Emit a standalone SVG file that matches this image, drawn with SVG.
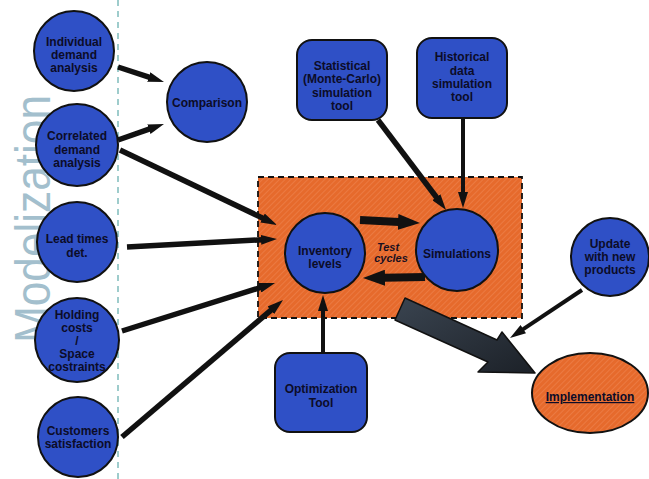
<svg xmlns="http://www.w3.org/2000/svg" width="649" height="479" viewBox="0 0 649 479">
<defs>
  <pattern id="hatch" width="4" height="4" patternUnits="userSpaceOnUse" patternTransform="rotate(45)">
    <rect width="4" height="4" fill="#e66a2c"/>
    <line x1="0" y1="0" x2="0" y2="4" stroke="#f08a58" stroke-width="1"/>
  </pattern>
  <linearGradient id="bigArrow" x1="0" y1="0" x2="1" y2="1">
    <stop offset="0" stop-color="#3a4450"/>
    <stop offset="1" stop-color="#1c2128"/>
  </linearGradient>
  <marker id="ah" viewBox="0 0 16 10" markerWidth="16" markerHeight="10" refX="1" refY="5" orient="auto" markerUnits="userSpaceOnUse">
    <path d="M0,0 L16,5 L0,10 Z" fill="#111"/>
  </marker>
  <marker id="ahBig" viewBox="0 0 22 16" markerWidth="22" markerHeight="16" refX="1" refY="8" orient="auto" markerUnits="userSpaceOnUse">
    <path d="M0,0 L22,8 L0,16 Z" fill="#111"/>
  </marker>
</defs>
<style>
  .node { fill: #2f50c6; stroke: #111; stroke-width: 2; }
  .lbl { font-family: "Liberation Sans", Arial, sans-serif; font-weight: bold; font-size: 12px; fill: #0c0c28; text-anchor: middle; }
  .conn { stroke: #111; fill: none; stroke-width: 5.5; stroke-linecap: butt; marker-end: url(#ah); }
  .thin { stroke-width: 4; }
  .thick { stroke-width: 8; marker-end: url(#ahBig); }
</style>
<rect width="649" height="479" fill="#ffffff"/>

<!-- Modelization side label and divider -->
<text x="50" y="343" transform="rotate(-90 50 343)" font-family="Liberation Sans, Arial, sans-serif" font-size="50" fill="#a3bfcd" textLength="248" lengthAdjust="spacingAndGlyphs">Modelization</text>
<line x1="118" y1="0" x2="118" y2="479" stroke="#7fbcbc" stroke-width="1.5" stroke-dasharray="6,5"/>

<!-- Orange container -->
<g id="box">
  <rect x="258" y="177" width="264" height="141" fill="url(#hatch)" stroke="#111" stroke-width="1.8" stroke-dasharray="6,4"/>
</g>

<!-- Connectors -->
<g id="connectors">
  <line class="conn" x1="118" y1="67" x2="149.7" y2="77.4"/>
  <line class="conn" x1="118" y1="140" x2="149.8" y2="128.9"/>
  <line class="conn" x1="120" y1="150" x2="263.5" y2="218.5"/>
  <line class="conn" x1="127" y1="247" x2="262" y2="239.8"/>
  <line class="conn" x1="122" y1="331" x2="260.7" y2="287.5"/>
  <line class="conn" x1="122" y1="437" x2="271.6" y2="309.7"/>
  <line class="conn" x1="378" y1="120" x2="437" y2="198"/>
  <line class="conn thin" x1="463" y1="118" x2="463" y2="193"/>
  <line class="conn thin" x1="323" y1="353" x2="323" y2="310"/>
  <line class="conn thick" x1="360" y1="220" x2="399" y2="222"/>
  <line class="conn thick" x1="425" y1="277" x2="384" y2="277.7"/>
  <line class="conn thin" x1="582" y1="290" x2="522.5" y2="329.7"/>
  <polygon id="bigarrow" points="405,298 497,340 502,332 535,373 478,372 488,362 395,320" fill="url(#bigArrow)" stroke="#111" stroke-width="1.5" stroke-linejoin="round"/>
</g>

<g id="individual">
  <circle class="node" cx="74" cy="51" r="40"/>
  <text class="lbl"><tspan x="74" y="46">Individual</tspan><tspan x="74" y="59">demand</tspan><tspan x="74" y="72">analysis</tspan></text>
</g>
<g id="comparison">
  <circle class="node" cx="207" cy="102" r="40"/>
  <text class="lbl" x="207" y="107">Comparison</text>
</g>
<g id="correlated">
  <circle class="node" cx="77" cy="145" r="41"/>
  <text class="lbl"><tspan x="77" y="140">Correlated</tspan><tspan x="77" y="153.5">demand</tspan><tspan x="77" y="167">analysis</tspan></text>
</g>
<g id="leadtimes">
  <circle class="node" cx="77" cy="242" r="40"/>
  <text class="lbl"><tspan x="77" y="243">Lead times</tspan><tspan x="77" y="257">det.</tspan></text>
</g>
<g id="holding">
  <circle class="node" cx="77" cy="340" r="42"/>
  <text class="lbl"><tspan x="77" y="319">Holding</tspan><tspan x="77" y="332">costs</tspan><tspan x="77" y="345">/</tspan><tspan x="77" y="358">Space</tspan><tspan x="77" y="371">costraints</tspan></text>
</g>
<g id="customers">
  <circle class="node" cx="78" cy="437" r="40"/>
  <text class="lbl"><tspan x="78" y="435">Customers</tspan><tspan x="78" y="448">satisfaction</tspan></text>
</g>
<g id="statistical">
  <rect class="node" x="297" y="40" width="90" height="80" rx="15"/>
  <text class="lbl"><tspan x="342" y="70">Statistical</tspan><tspan x="342" y="83">(Monte-Carlo)</tspan><tspan x="342" y="97">simulation</tspan><tspan x="342" y="110">tool</tspan></text>
</g>
<g id="historical">
  <rect class="node" x="417" y="38" width="90" height="80" rx="15"/>
  <text class="lbl"><tspan x="462" y="61">Historical</tspan><tspan x="462" y="75">data</tspan><tspan x="462" y="88">simulation</tspan><tspan x="462" y="101">tool</tspan></text>
</g>
<g id="inventory">
  <circle class="node" cx="325" cy="253" r="40"/>
  <text class="lbl"><tspan x="325" y="255">Inventory</tspan><tspan x="325" y="268">levels</tspan></text>
</g>
<g id="simulations">
  <circle class="node" cx="457" cy="250" r="41"/>
  <text class="lbl" x="457" y="258">Simulations</text>
</g>
<g id="testcycles">
  <text font-family="Liberation Sans, Arial, sans-serif" font-style="italic" font-weight="bold" font-size="11" fill="#1a1020" text-anchor="middle"><tspan x="388" y="251">Test</tspan><tspan x="391" y="262">cycles</tspan></text>
</g>
<g id="optimization">
  <rect class="node" x="275" y="353" width="92" height="79" rx="15"/>
  <text class="lbl"><tspan x="321" y="393">Optimization</tspan><tspan x="321" y="407">Tool</tspan></text>
</g>
<g id="update">
  <circle class="node" cx="610" cy="257" r="39"/>
  <text class="lbl"><tspan x="610" y="248">Update</tspan><tspan x="610" y="261">with new</tspan><tspan x="610" y="274">products</tspan></text>
</g>
<g id="implementation">
  <ellipse cx="590" cy="393" rx="58" ry="40" fill="url(#hatch)" stroke="#111" stroke-width="2"/>
  <text class="lbl" x="590" y="401" text-decoration="underline">Implementation</text>
</g>
</svg>
